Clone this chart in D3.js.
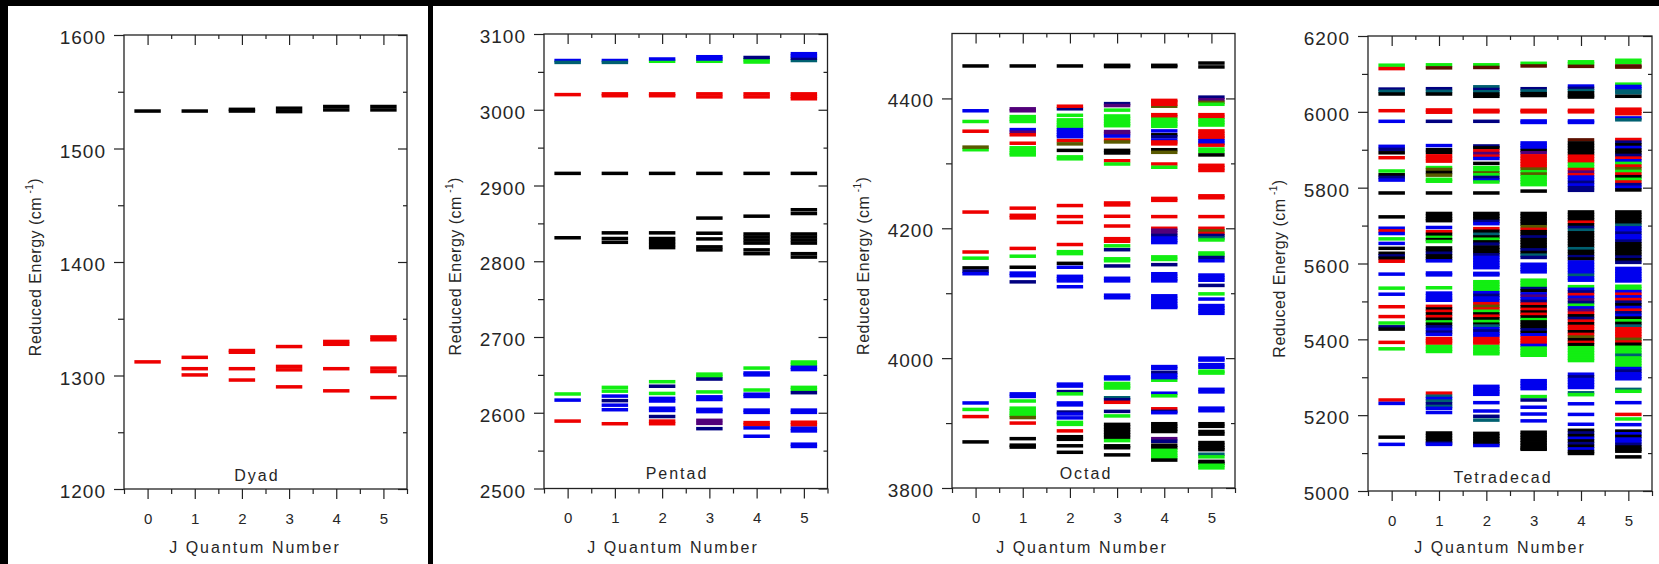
<!DOCTYPE html>
<html><head><meta charset="utf-8">
<script src="https://cdn.jsdelivr.net/npm/d3@7"></script>
<style>body{margin:0;background:#000;}svg{display:block;}</style>
</head><body>
<svg id="c" width="1659" height="564"></svg>
<script>
// ---------------- DATA ----------------
const jValues = [0,1,2,3,4,5];
const xTickLabels = ["0","1","2","3","4","5"];
const panelNames = ["Dyad","Pentad","Octad","Tetradecad"];
const yDomains = [[1200,1600],[2500,3100],[3800,4500],[5000,6200]];
const yMajorTicks = [
  [1200,1300,1400,1500,1600],
  [2500,2600,2700,2800,2900,3000,3100],
  [3800,4000,4200,4400],
  [5000,5200,5400,5600,5800,6000,6200]
];
const yMinorTicks = [
  [1250,1350,1450,1550],
  [2550,2650,2750,2850,2950,3050],
  [3900,4100,4300],
  [5100,5300,5500,5700,5900,6100]
];
const yTitle = "Reduced Energy (cm";
const yTitleSup = "-1";
const xTitle = "J Quantum Number";
const colorCodes = {k:"#000000", r:"#ee0000", g:"#12ee12", b:"#0000ee", n:"#000080", t:"#006070", p:"#52007a", o:"#5a5a00", d:"#5a1000"};

// energy levels per J: [energy, colour code]
const dyadLevels = [
  [[1533,"k"],[1312,"r"]],
  [[1533,"k"],[1316,"r"],[1306,"r"],[1300.5,"r"]],
  [[1533,"k"],[1534.5,"k"],[1322,"r"],[1320.5,"r"],[1306,"r"],[1296,"r"]],
  [[1532.5,"k"],[1535.5,"k"],[1325.5,"r"],[1308,"r"],[1305,"r"],[1290,"r"]],
  [[1534,"k"],[1537,"k"],[1330,"r"],[1327.5,"r"],[1306,"r"],[1286.5,"r"]],
  [[1534,"k"],[1537,"k"],[1334,"r"],[1331.5,"r"],[1306.5,"r"],[1303.5,"r"],[1280.5,"r"]]
];
const pentadLevels = [
  [[3065,"b"],[3062.5,"t"],[3020,"r"],[2916,"k"],[2831,"k"],[2624.8,"g"],[2616.7,"b"],[2589,"r"]],
  [[3065,"b"],[3062.5,"t"],[3021,"r"],[3018.5,"r"],[2916,"k"],[2837.5,"k"],[2830,"k"],[2825,"k"],[2633.5,"g"],[2628.5,"g"],[2622,"b"],[2616,"n"],[2610,"b"],[2604,"b"],[2585.5,"r"]],
  [[3064,"g"],[3067,"b"],[3021,"r"],[3018.5,"r"],[2916,"k"],[2837.5,"k"],[2830,"k"],[2826,"k"],[2822,"k"],[2818,"k"],[2641,"g"],[2635,"n"],[2625.5,"g"],[2619,"b"],[2615.5,"b"],[2606,"b"],[2603,"b"],[2595,"n"],[2589,"r"],[2585.5,"r"]],
  [[3064,"g"],[3067,"b"],[3070,"b"],[3021,"r"],[3017,"r"],[2916,"k"],[2857,"k"],[2837,"k"],[2829.5,"k"],[2819,"k"],[2815,"k"],[2651,"g"],[2648,"g"],[2644.5,"n"],[2627.5,"g"],[2621,"b"],[2617.5,"b"],[2604.5,"b"],[2601.5,"b"],[2590,"p"],[2586,"p"],[2579,"n"]],
  [[3063,"g"],[3066,"g"],[3069,"n"],[3021,"r"],[3017,"r"],[2916,"k"],[2859.5,"k"],[2836,"k"],[2832,"k"],[2828,"k"],[2824,"k"],[2815,"k"],[2810,"k"],[2659,"g"],[2652.5,"b"],[2650,"b"],[2630,"g"],[2624.5,"b"],[2621.5,"b"],[2603.5,"b"],[2600.5,"b"],[2587,"r"],[2584,"r"],[2580,"b"],[2569,"b"]],
  [[3065,"t"],[3068,"n"],[3071,"b"],[3074,"b"],[3021,"r"],[3017.5,"r"],[3014.5,"r"],[2916,"k"],[2868,"k"],[2863,"k"],[2836,"k"],[2832,"k"],[2828,"k"],[2824,"k"],[2810,"k"],[2805.5,"k"],[2667,"g"],[2664,"g"],[2660,"b"],[2657,"b"],[2633.5,"g"],[2630.5,"g"],[2626.5,"n"],[2603.5,"b"],[2600.5,"b"],[2587.5,"r"],[2584,"r"],[2579.5,"b"],[2576,"b"],[2558.5,"b"],[2555.5,"b"]]
];
const octadLevels = [
  [[4450,"k"],[4381,"b"],[4364.5,"g"],[4349.5,"r"],[4321,"g"],[4325,"o"],[4225,"r"],[4163.5,"r"],[4154,"g"],[4139,"k"],[4134,"n"],[4130,"b"],[3931,"b"],[3921,"g"],[3910,"r"],[3871,"k"]],
  [[4450,"k"],[4384,"p"],[4381,"p"],[4372,"g"],[4368,"g"],[4364.5,"g"],[4352,"b"],[4348,"p"],[4344,"r"],[4331,"r"],[4324,"g"],[4320,"g"],[4316,"g"],[4313,"g"],
   [4231,"r"],[4220,"r"],[4216,"r"],[4169,"r"],[4157,"g"],[4140,"k"],[4131,"b"],[4127,"b"],[4117.5,"n"],
   [3945,"b"],[3941,"b"],[3934,"g"],[3923,"g"],[3919,"g"],[3915,"g"],[3912,"g"],[3908.5,"o"],[3900,"r"],[3876,"k"],[3866,"k"],[3863,"k"]],
  [[4450,"k"],[4384,"n"],[4388,"r"],[4374,"g"],[4367,"g"],[4363,"g"],[4359,"g"],[4356,"g"],[4352,"b"],[4348,"b"],[4344,"b"],[4341,"b"],[4335,"r"],[4330,"o"],[4320,"k"],[4310,"g"],[4307,"g"],
   [4235,"r"],[4218,"r"],[4209,"r"],[4175,"r"],[4164,"g"],[4161,"g"],[4146,"k"],[4140,"b"],[4126,"b"],[4122,"b"],[4119,"b"],[4110,"b"],
   [3960,"b"],[3957,"b"],[3948.5,"n"],[3945,"g"],[3931,"b"],[3928,"b"],[3917,"n"],[3914,"b"],[3908,"b"],[3901,"g"],[3898,"g"],[3888,"r"],[3879,"k"],[3875,"k"],[3865,"k"],[3855,"k"]],
  [[4451,"k"],[4449,"k"],[4392,"n"],[4389,"p"],[4382,"g"],[4373,"g"],[4369,"g"],[4365,"g"],[4361,"g"],[4358,"g"],[4349,"p"],[4346,"p"],[4342,"b"],[4336,"r"],[4333,"o"],[4320,"k"],[4316,"k"],[4304,"r"],[4299,"g"],
   [4239,"r"],[4236,"r"],[4218.5,"r"],[4203.5,"r"],[4184,"r"],[4180,"r"],[4173,"g"],[4167,"n"],[4153,"g"],[4150,"g"],[4142,"n"],[4123,"b"],[4119,"b"],[4097,"b"],[4093,"b"],
   [3971,"b"],[3968,"b"],[3961,"g"],[3957,"g"],[3954,"g"],[3939,"t"],[3936,"n"],[3932,"r"],[3918,"n"],[3911,"g"],[3898,"k"],[3894,"k"],[3890,"k"],[3886,"k"],[3882,"k"],[3878,"k"],[3873,"g"],[3865,"k"],[3862,"k"],[3851,"k"]],
  [[4451,"k"],[4449,"k"],[4388,"o"],[4391,"r"],[4395,"r"],[4397,"r"],[4375,"r"],[4372,"r"],[4368,"g"],[4364,"g"],[4360,"g"],[4357,"g"],[4350,"b"],[4344,"k"],[4341,"n"],[4336,"b"],[4333,"r"],[4330,"r"],[4321,"k"],[4317,"o"],[4299,"r"],[4294,"g"],
   [4246,"r"],[4243,"r"],[4218,"r"],[4200,"r"],[4197,"p"],[4193,"p"],[4189,"n"],[4185,"b"],[4181,"b"],[4178,"b"],[4156,"g"],[4152,"g"],[4144,"n"],[4130,"b"],[4126,"b"],[4122,"b"],[4119,"b"],[4096,"b"],[4092,"b"],[4088,"b"],[4084,"b"],[4080,"b"],[4078,"b"],
   [3987,"b"],[3984,"b"],[3978,"n"],[3974,"b"],[3966,"g"],[3970,"b"],[3946,"b"],[3942,"g"],[3922,"r"],[3918,"n"],[3916,"b"],[3899,"k"],[3895,"k"],[3891,"k"],[3887,"k"],[3876,"p"],[3872,"n"],[3866,"k"],[3862,"k"],[3858,"g"],[3854,"g"],[3850,"g"],[3847,"g"],[3843,"k"]],
  [[4454.5,"k"],[4448.5,"k"],[4402,"n"],[4398,"p"],[4394,"o"],[4391,"g"],[4375,"r"],[4371,"r"],[4367,"g"],[4363,"g"],[4359,"g"],[4350,"r"],[4346,"r"],[4342,"r"],[4339,"r"],[4335,"b"],[4331,"b"],[4328,"r"],[4322,"g"],[4318,"g"],[4313,"k"],[4297,"r"],[4293,"r"],[4289,"r"],
   [4250,"r"],[4247,"r"],[4218,"r"],[4200,"r"],[4196,"o"],[4192,"r"],[4189,"n"],[4185,"t"],[4182,"g"],[4162,"g"],[4159,"g"],[4155,"n"],[4150,"b"],[4128,"b"],[4124,"b"],[4120,"b"],[4112,"n"],[4099,"g"],[4091,"b"],[4081,"b"],[4077,"b"],[4073,"b"],[4069,"b"],
   [4000,"b"],[3997,"b"],[3990,"b"],[3986,"b"],[3980,"g"],[3977,"g"],[3952,"b"],[3948,"b"],[3923,"b"],[3919,"b"],[3899,"k"],[3895,"k"],[3887,"k"],[3883,"k"],[3870,"k"],[3866,"k"],[3862,"k"],[3859,"k"],[3852,"t"],[3848,"g"],[3841,"k"],[3838,"k"],[3835,"g"],[3831,"g"]]
];
const tetradecadLevels = [
  [[6123,"g"],[6114,"r"],[6060,"n"],[6054,"t"],[6047,"k"],[6003,"r"],[5975,"b"],[5909,"b"],[5901,"n"],[5892,"k"],[5879,"r"],[5844,"g"],[5834,"k"],[5827,"n"],[5820,"b"],[5786,"k"],[5723,"k"],
   [5693,"b"],[5686,"r"],[5679,"b"],[5665,"g"],[5653,"b"],[5640,"k"],[5627,"k"],[5620,"n"],[5614,"k"],[5606,"r"],[5572,"b"],[5535,"g"],[5519,"b"],[5486,"r"],[5460,"r"],[5443,"g"],[5433,"n"],[5427,"k"],[5392,"r"],[5375,"g"],
   [5240,"r"],[5231,"b"],[5142,"k"],[5123,"b"]],
  [[6124,"g"],[6116,"d"],[6061,"n"],[6054,"t"],[6047,"k"],[6005,"r"],[5999,"r"],[5975,"n"],[5911,"b"],[5900,"k"],[5893,"k"],[5884,"r"],[5877,"r"],[5870,"r"],[5853,"g"],[5848,"o"],[5840,"k"],[5833,"o"],[5822,"g"],[5817,"g"],[5786,"k"],
   [5732,"k"],[5725,"k"],[5718,"k"],[5713,"k"],[5695,"b"],[5684,"r"],[5677,"k"],[5669,"g"],[5663,"k"],[5658,"g"],[5641,"k"],[5634,"k"],[5627,"n"],[5620,"k"],[5613,"k"],[5607,"b"],[5575,"b"],[5570,"b"],
   [5536,"g"],[5522,"b"],[5515,"b"],[5508,"b"],[5503,"b"],[5487,"r"],[5480,"k"],[5474,"r"],[5467,"k"],[5460,"r"],[5453,"k"],[5446,"g"],[5440,"k"],[5433,"n"],[5426,"b"],[5419,"n"],[5413,"b"],[5402,"r"],[5396,"r"],[5390,"r"],[5381,"g"],[5374,"g"],[5368,"g"],
   [5258,"r"],[5250,"t"],[5244,"b"],[5237,"t"],[5230,"n"],[5223,"t"],[5218,"b"],[5207,"b"],[5153,"k"],[5146,"k"],[5139,"k"],[5132,"k"],[5126,"n"],[5123,"b"]],
  [[6124,"g"],[6117,"d"],[6066,"t"],[6059,"n"],[6053,"t"],[6047,"k"],[6041,"k"],[6004,"r"],[6000,"r"],[5975,"n"],[5910,"n"],[5905,"k"],[5897,"r"],[5890,"p"],[5883,"r"],[5877,"b"],[5864,"k"],[5853,"g"],[5846,"g"],[5839,"o"],[5834,"g"],[5827,"n"],[5820,"b"],[5815,"g"],[5786,"k"],
   [5732,"k"],[5725,"k"],[5718,"k"],[5711,"n"],[5705,"b"],[5692,"r"],[5685,"k"],[5677,"t"],[5670,"k"],[5664,"g"],[5657,"k"],[5651,"n"],[5643,"k"],[5636,"k"],[5629,"k"],[5623,"n"],[5616,"b"],[5609,"b"],[5602,"b"],[5595,"b"],[5589,"b"],[5574,"b"],[5570,"b"],
   [5552,"g"],[5545,"g"],[5538,"g"],[5531,"g"],[5523,"b"],[5516,"n"],[5509,"b"],[5502,"b"],[5494,"r"],[5487,"o"],[5480,"r"],[5474,"g"],[5467,"k"],[5461,"r"],[5454,"k"],[5447,"g"],[5440,"k"],[5435,"t"],[5428,"b"],[5422,"n"],[5415,"b"],[5410,"b"],[5402,"r"],[5395,"r"],[5390,"r"],[5381,"g"],[5374,"g"],[5367,"g"],[5362,"g"],
   [5276,"b"],[5269,"b"],[5262,"b"],[5255,"b"],[5233,"b"],[5211,"b"],[5197,"n"],[5187,"t"],[5152,"k"],[5145,"k"],[5138,"k"],[5131,"k"],[5125,"k"],[5120,"b"]],
  [[6128,"g"],[6121,"d"],[6061,"n"],[6055,"t"],[6048,"k"],[6043,"k"],[6004,"r"],[6000,"r"],[5976,"b"],[5972,"b"],[5918,"b"],[5911,"b"],[5905,"b"],[5898,"k"],[5892,"p"],[5884,"r"],[5877,"r"],[5870,"r"],[5863,"r"],[5856,"r"],[5849,"o"],[5842,"g"],[5836,"o"],[5829,"g"],[5822,"g"],[5815,"g"],[5808,"g"],[5791,"k"],
   [5732,"k"],[5725,"k"],[5718,"k"],[5711,"k"],[5704,"k"],[5697,"o"],[5690,"r"],[5684,"k"],[5677,"k"],[5670,"n"],[5663,"k"],[5656,"k"],[5649,"k"],[5642,"k"],[5636,"n"],[5629,"k"],[5622,"t"],[5616,"n"],[5598,"b"],[5591,"b"],[5584,"b"],[5578,"b"],
   [5556,"g"],[5549,"g"],[5542,"g"],[5534,"n"],[5528,"k"],[5520,"b"],[5514,"p"],[5507,"b"],[5500,"n"],[5493,"r"],[5486,"k"],[5479,"r"],[5472,"k"],[5466,"r"],[5459,"k"],[5452,"g"],[5446,"k"],[5439,"k"],[5432,"k"],[5425,"n"],[5418,"k"],[5412,"b"],[5404,"r"],[5397,"r"],[5390,"r"],[5384,"b"],[5377,"g"],[5370,"g"],[5363,"g"],[5358,"g"],
   [5291,"b"],[5284,"b"],[5277,"b"],[5270,"b"],[5249,"g"],[5240,"n"],[5221,"b"],[5203,"b"],[5185,"b"],[5155,"k"],[5148,"k"],[5141,"k"],[5134,"k"],[5127,"k"],[5120,"k"],[5113,"k"],[5110,"k"]],
  [[6132,"g"],[6127,"g"],[6120,"d"],[6068,"b"],[6062,"n"],[6056,"t"],[6050,"k"],[6043,"k"],[6039,"k"],[6004,"r"],[6000,"r"],[5976,"b"],[5972,"b"],
   [5926,"d"],[5918,"k"],[5911,"k"],[5904,"k"],[5897,"k"],[5890,"k"],[5883,"r"],[5876,"r"],[5869,"r"],[5862,"g"],[5855,"g"],[5848,"r"],[5841,"p"],[5834,"r"],[5828,"b"],[5821,"b"],[5814,"n"],[5807,"b"],[5800,"n"],[5793,"n"],
   [5736,"k"],[5729,"k"],[5722,"k"],[5715,"k"],[5709,"r"],[5702,"k"],[5695,"n"],[5688,"t"],[5681,"k"],[5674,"k"],[5667,"k"],[5660,"k"],[5653,"k"],[5646,"k"],[5639,"t"],[5632,"k"],[5625,"k"],[5618,"n"],[5612,"k"],
   [5604,"b"],[5597,"b"],[5590,"b"],[5583,"b"],[5576,"b"],[5569,"t"],[5562,"b"],[5556,"b"],
   [5539,"g"],[5532,"b"],[5525,"n"],[5518,"r"],[5511,"b"],[5504,"p"],[5497,"n"],[5490,"g"],[5483,"b"],[5476,"p"],[5469,"r"],[5462,"k"],[5455,"n"],[5448,"r"],[5441,"k"],[5434,"r"],[5427,"r"],[5420,"k"],[5413,"r"],[5406,"o"],[5399,"k"],[5392,"r"],[5386,"k"],
   [5378,"g"],[5371,"g"],[5364,"g"],[5357,"g"],[5350,"g"],[5344,"g"],
   [5308,"b"],[5301,"n"],[5294,"b"],[5287,"b"],[5280,"b"],[5273,"b"],[5259,"t"],[5254,"g"],[5230,"b"],[5202,"b"],[5176,"b"],
   [5160,"k"],[5153,"n"],[5146,"k"],[5139,"b"],[5132,"k"],[5125,"n"],[5118,"k"],[5111,"b"],[5104,"k"],[5099,"k"]],
  [[6136,"g"],[6130,"g"],[6121,"d"],[6118,"d"],[6073,"g"],[6067,"b"],[6061,"b"],[6055,"t"],[6050,"t"],[6041,"k"],[6007,"r"],[6001,"r"],[5995,"r"],[5984,"b"],[5979,"t"],
   [5927,"r"],[5920,"n"],[5913,"k"],[5906,"b"],[5899,"k"],[5892,"k"],[5885,"n"],[5878,"r"],[5871,"b"],[5864,"g"],[5857,"r"],[5850,"o"],[5843,"g"],[5836,"r"],[5829,"k"],[5822,"g"],[5815,"r"],[5808,"n"],[5801,"b"],[5794,"k"],
   [5736,"k"],[5729,"k"],[5722,"k"],[5715,"k"],[5708,"k"],[5701,"t"],[5694,"b"],[5687,"b"],[5680,"n"],[5673,"b"],[5666,"b"],[5659,"n"],[5652,"k"],[5645,"k"],[5638,"k"],[5631,"k"],[5624,"k"],[5617,"n"],[5610,"k"],[5603,"n"],
   [5587,"b"],[5580,"b"],[5573,"b"],[5566,"b"],[5559,"b"],[5554,"b"],
   [5540,"g"],[5533,"g"],[5526,"b"],[5519,"r"],[5512,"b"],[5505,"r"],[5498,"n"],[5491,"k"],[5484,"b"],[5477,"r"],[5470,"n"],[5463,"b"],[5456,"k"],[5449,"g"],[5442,"k"],[5435,"t"],[5428,"r"],[5421,"r"],[5414,"r"],[5407,"r"],[5400,"o"],[5393,"r"],[5387,"k"],
   [5379,"g"],[5372,"g"],[5365,"g"],[5358,"t"],[5351,"g"],[5344,"g"],[5337,"g"],[5330,"g"],[5323,"b"],[5316,"n"],[5309,"b"],[5302,"b"],[5296,"b"],
   [5268,"t"],[5263,"g"],[5233,"b"],[5202,"r"],[5190,"g"],[5175,"b"],[5158,"k"],[5151,"b"],[5144,"k"],[5137,"b"],[5130,"b"],[5123,"n"],[5116,"k"],[5110,"k"],[5105,"k"],[5090,"k"]]
];
const panelLevels = [dyadLevels, pentadLevels, octadLevels, tetradecadLevels];

// ---------------- LAYOUT ----------------
const panelBoxes = [
  {x0:124, x1:407, y0:35, y1:489, name:[257,480.5], xt:255},
  {x0:544, x1:827.5, y0:34, y1:488.5, name:[677,478.5], xt:673},
  {x0:952, x1:1235, y0:33.5, y1:488, name:[1086,478.5], xt:1082},
  {x0:1368, x1:1652, y0:36, y1:491, name:[1503,482.5], xt:1500}
];
const FONT = "'Liberation Sans', Arial, Helvetica, sans-serif";
const TXT = "#262626";
const LINE_H = 3.5;
const HALF_W = 0.28;

const svg = d3.select("#c");
svg.append("rect").attr("x",8).attr("y",6).attr("width",420).attr("height",558).attr("fill","#fff");
svg.append("rect").attr("x",433).attr("y",6).attr("width",1226).attr("height",558).attr("fill","#fff");

panelBoxes.forEach((p,i)=>{
  const x = d3.scaleLinear().domain([-0.5,5.5]).range([p.x0,p.x1]);
  const y = d3.scaleLinear().domain(yDomains[i]).range([p.y1,p.y0]);
  const g = svg.append("g");

  const flat = [];
  panelLevels[i].forEach((arr,j)=>arr.forEach(([e,c])=>flat.push({j:jValues[j], e, c})));
  g.append("g").selectAll("rect").data(flat).join("rect")
    .attr("x", d=>x(d.j-HALF_W))
    .attr("width", d=>x(d.j+HALF_W)-x(d.j-HALF_W))
    .attr("y", d=>y(d.e)-LINE_H/2)
    .attr("height", LINE_H)
    .attr("fill", d=>colorCodes[d.c]);

  const styleAxis = sel => {
    sel.select(".domain").remove();
    sel.selectAll("line").attr("stroke","#222").attr("stroke-width",1.2);
  };
  // left axis
  g.append("g").attr("transform",`translate(${p.x0},0)`)
    .call(d3.axisLeft(y).tickValues(yMajorTicks[i]).tickSize(10).tickPadding(8).tickSizeOuter(0).tickFormat(d3.format("d")))
    .call(styleAxis)
    .call(s=>s.selectAll("text").attr("font-family",FONT).attr("font-size",19).attr("letter-spacing","1px").attr("fill",TXT).attr("dy","0.45em"));
  g.append("g").attr("transform",`translate(${p.x0},0)`)
    .call(d3.axisLeft(y).tickValues(yMinorTicks[i]).tickSize(6).tickSizeOuter(0).tickFormat(""))
    .call(styleAxis);
  // right axis (inward)
  g.append("g").attr("transform",`translate(${p.x1},0)`)
    .call(d3.axisRight(y).tickValues(yMajorTicks[i]).tickSize(-9).tickSizeOuter(0).tickFormat(""))
    .call(styleAxis);
  g.append("g").attr("transform",`translate(${p.x1},0)`)
    .call(d3.axisRight(y).tickValues(yMinorTicks[i]).tickSize(-4).tickSizeOuter(0).tickFormat(""))
    .call(styleAxis);
  // bottom axis
  g.append("g").attr("transform",`translate(0,${p.y1})`)
    .call(d3.axisBottom(x).tickValues(jValues).tickSize(10).tickPadding(14).tickSizeOuter(0).tickFormat((d,k)=>xTickLabels[k]))
    .call(styleAxis)
    .call(s=>s.selectAll("text").attr("font-family",FONT).attr("font-size",15).attr("fill",TXT));
  g.append("g").attr("transform",`translate(0,${p.y1})`)
    .call(d3.axisBottom(x).tickValues(d3.range(-0.5,6,1)).tickSize(5).tickSizeOuter(0).tickFormat(""))
    .call(styleAxis);
  // top axis (inward)
  g.append("g").attr("transform",`translate(0,${p.y0})`)
    .call(d3.axisTop(x).tickValues(jValues).tickSize(-10).tickSizeOuter(0).tickFormat(""))
    .call(styleAxis);
  g.append("g").attr("transform",`translate(0,${p.y0})`)
    .call(d3.axisTop(x).tickValues(d3.range(0.5,5,1)).tickSize(-4).tickSizeOuter(0).tickFormat(""))
    .call(styleAxis);
  // frame
  g.append("rect").attr("x",p.x0).attr("y",p.y0).attr("width",p.x1-p.x0).attr("height",p.y1-p.y0)
    .attr("fill","none").attr("stroke","#222").attr("stroke-width",1.3);

  // panel name
  g.append("text").attr("x",p.name[0]).attr("y",p.name[1]).attr("text-anchor","middle")
    .attr("font-family",FONT).attr("font-size",16).attr("letter-spacing","2px").attr("fill",TXT).text(panelNames[i]);
  // x title
  g.append("text").attr("x",p.xt).attr("y",553).attr("text-anchor","middle")
    .attr("font-family",FONT).attr("font-size",16).attr("letter-spacing","2px").attr("fill",TXT).text(xTitle);
  // y title
  const cy = (p.y0+p.y1)/2 + 5;
  const t = g.append("text").attr("transform",`translate(${p.x0-89},${cy}) rotate(-90)`)
    .attr("text-anchor","middle").attr("dy","0.35em")
    .attr("font-family",FONT).attr("font-size",16).attr("letter-spacing","0.5px").attr("fill",TXT);
  t.append("tspan").text(yTitle);
  t.append("tspan").attr("font-size",10).attr("dy","-0.75em").text(" " + yTitleSup);
  t.append("tspan").attr("dy","0.45em").text(")");
});
</script>
</body></html>
